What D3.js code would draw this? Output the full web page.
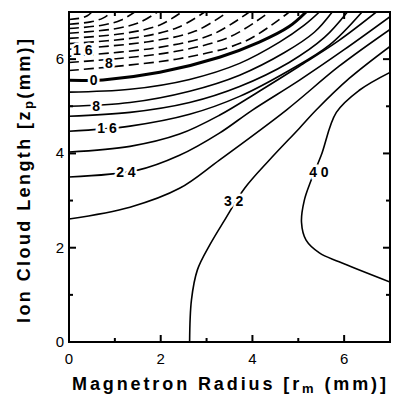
<!DOCTYPE html>
<html><head><meta charset="utf-8">
<script src="https://cdn.jsdelivr.net/npm/d3@7"></script>
<style>body{margin:0;background:#fff}svg{display:block}</style>
</head><body>
<svg id="chart" width="396" height="400"></svg>
<script>
// ---- data (x = magnetron radius mm, y = ion cloud length mm) ----
const xMajorTicks = [0, 2, 4, 6];
const xMinorTicks = [1, 3, 5];
const yMajorTicks = [0, 2, 4, 6];
const yMinorTicks = [1, 3, 5];

// negative (dashed) contours
const cM4  = [[0,5.76],[2.4,6.01],[3.84,6.38],[4.8,7]];
const cM8  = [[0,5.93],[2.18,6.14],[3.5,6.47],[4.37,7]];
const cM12 = [[0,6.06],[1.97,6.25],[3.14,6.53],[3.93,7]];
const cM16 = [[0,6.21],[1.73,6.37],[2.77,6.6],[3.46,7]];
const cM20 = [[0,6.33],[1.48,6.46],[2.37,6.67],[2.96,7]];
const cM24 = [[0,6.44],[1.23,6.55],[1.97,6.72],[2.46,7]];
const cM28 = [[0,6.55],[0.97,6.64],[1.54,6.78],[1.93,7]];
const cM32 = [[0,6.65],[0.72,6.72],[1.14,6.83],[1.43,7]];
const cM36 = [[0,6.74],[0.47,6.79],[0.74,6.87],[0.93,7]];
const cM40 = [[0,6.84],[0.25,6.87],[0.4,6.92],[0.5,7]];
// zero and positive (solid) contours
const c0  = [[0,5.55],[0.74,5.56],[1.98,5.72],[3.28,6.04],[4.15,6.36],[4.8,6.69],[5.17,7]];
const c4  = [[0,5.3],[1.33,5.36],[2.63,5.57],[3.72,5.91],[4.59,6.36],[5.13,6.72],[5.46,7]];
const c8  = [[0,5.0],[1.33,5.08],[2.63,5.32],[3.72,5.66],[4.7,6.14],[5.35,6.57],[5.74,7]];
const c12 = [[0,4.79],[1.33,4.87],[2.63,5.08],[3.72,5.42],[4.8,5.93],[5.57,6.46],[6.07,7]];
const c16 = [[0,4.47],[1.33,4.58],[2.63,4.83],[3.72,5.21],[4.8,5.76],[5.67,6.29],[6.39,7]];
const c20 = [[0,4.03],[1.33,4.15],[2.41,4.41],[3.28,4.81],[4.15,5.32],[5.02,5.85],[5.89,6.4],[6.7,7]];
const c24 = [[0,3.5],[1.48,3.64],[2.41,3.96],[3.28,4.43],[4.0,4.92],[5.02,5.55],[6.0,6.2],[7,6.9]];
const c28 = [[0,2.61],[1.33,2.86],[2.41,3.26],[3.28,3.86],[4.74,4.92],[5.89,5.85],[7,6.63]];
const c32 = [[2.63,0],[2.67,0.89],[2.8,1.53],[3.07,2.06],[3.39,2.58],[3.83,3.26],[4.37,3.86],[5.02,4.53],[5.39,4.92],[6.11,5.59],[7,6.27]];
const c40 = [[7,1.27],[5.89,1.7],[5.46,1.89],[5.17,2.16],[5.07,2.54],[5.13,3.0],[5.28,3.43],[5.5,3.96],[5.83,4.87],[6.33,5.34],[7,5.72]];

const contourLevels = [-4,-8,-12,-16,-20,-24,-28,-32,-36,-40,0,4,8,12,16,20,24,28,32,40];
const contourPaths  = [cM4,cM8,cM12,cM16,cM20,cM24,cM28,cM32,cM36,cM40,c0,c4,c8,c12,c16,c20,c24,c28,c32,c40];

// contour labels
const labelTexts = ["1 6","8","0","8","1 6","2 4","3 2","4 0"];
const labelX     = [0.3, 0.87, 0.54, 0.59, 0.83, 1.24, 3.59, 5.45];
const labelY     = [6.19, 5.91, 5.55, 5.0, 4.53, 3.6, 2.99, 3.6];

// ---- drawing ----
const svg = d3.select("#chart");
const x = d3.scaleLinear().domain([0,7]).range([69,390]);
const y = d3.scaleLinear().domain([0,7]).range([342,12]);

svg.append("defs").append("clipPath").attr("id","plotclip")
  .append("rect").attr("x",69).attr("y",12).attr("width",321).attr("height",330);

const line = d3.line().x(d=>x(d[0])).y(d=>y(d[1])).curve(d3.curveCatmullRom.alpha(0.5));
const g = svg.append("g").attr("clip-path","url(#plotclip)");
contourPaths.forEach((pts,i)=>{
  const lv = contourLevels[i];
  g.append("path").attr("d",line(pts)).attr("fill","none").attr("stroke","#000")
   .attr("stroke-width", lv===0 ? 3 : 1.6)
   .attr("stroke-dasharray", lv<0 ? "10,5" : null);
});

const font = "Liberation Sans, Arial, Helvetica, sans-serif";
// labels knock out the lines
labelTexts.forEach((t,i)=>{
  svg.append("text").attr("x",x(labelX[i])).attr("y",y(labelY[i])+5)
   .attr("text-anchor","middle").attr("font-family",font)
   .attr("font-weight","bold").attr("font-size",14)
   .attr("stroke","#fff").attr("stroke-width",5).attr("paint-order","stroke")
   .attr("fill","#000").text(t);
});

// frame
svg.append("rect").attr("x",69).attr("y",12).attr("width",321).attr("height",330)
  .attr("fill","none").attr("stroke","#000").attr("stroke-width",2);

// ticks (inward, all sides)
const tk = svg.append("g").attr("stroke","#000").attr("stroke-width",2);
function ticks(vals,len){
  vals.forEach(v=>{
    tk.append("line").attr("x1",x(v)).attr("x2",x(v)).attr("y1",342).attr("y2",342-len);
    tk.append("line").attr("x1",x(v)).attr("x2",x(v)).attr("y1",12).attr("y2",12+len);
    tk.append("line").attr("y1",y(v)).attr("y2",y(v)).attr("x1",69).attr("x2",69+len);
    tk.append("line").attr("y1",y(v)).attr("y2",y(v)).attr("x1",390).attr("x2",390-len);
  });
}
ticks(xMajorTicks,7); ticks(xMinorTicks,4);

xMajorTicks.forEach(v=>{
  svg.append("text").attr("x",x(v)).attr("y",364).attr("text-anchor","middle")
    .attr("font-family",font).attr("font-size",15).text(v);
});
yMajorTicks.forEach(v=>{
  svg.append("text").attr("x",64).attr("y",y(v)+5).attr("text-anchor","end")
    .attr("font-family",font).attr("font-size",15).text(v);
});

// axis titles
const xt = svg.append("text").attr("x",72).attr("y",390).attr("text-anchor","start")
  .attr("font-family",font).attr("font-weight","bold").attr("font-size",18)
  .attr("textLength",314).attr("lengthAdjust","spacing");
xt.append("tspan").text("Magnetron Radius [r");
xt.append("tspan").attr("font-size",13).attr("dy",3).text("m");
xt.append("tspan").attr("dy",-3).text(" (mm)]");

const yt = svg.append("text").attr("transform","translate(30,323) rotate(-90)").attr("text-anchor","start")
  .attr("font-family",font).attr("font-weight","bold").attr("font-size",18)
  .attr("textLength",284).attr("lengthAdjust","spacing");
yt.append("tspan").text("Ion Cloud Length [z");
yt.append("tspan").attr("font-size",13).attr("dy",3).text("p");
yt.append("tspan").attr("dy",-3).text("(mm)]");
</script>
</body></html>
